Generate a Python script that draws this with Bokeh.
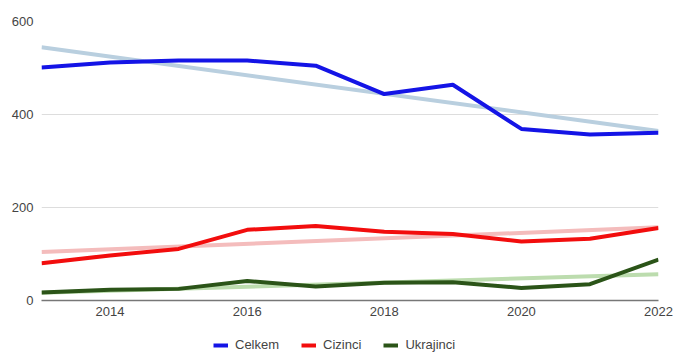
import numpy as np
from bokeh.plotting import figure
from bokeh.layouts import column
from bokeh.models import Legend, LegendItem, FixedTicker, Range1d
from bokeh.embed import file_html
from bokeh.resources import INLINE

# Yearly counts per group
years = [2013, 2014, 2015, 2016, 2017, 2018, 2019, 2020, 2021, 2022]
celkem = [501, 512, 516, 516, 505, 444, 464, 369, 357, 361]
cizinci = [80, 97, 111, 152, 160, 148, 143, 127, 133, 156]
ukrajinci = [17, 23, 25, 42, 30, 38, 39, 27, 35, 88]

series = [
    ("Celkem", celkem, "#1414e6", "#b9cfdf"),
    ("Cizinci", cizinci, "#f20d0d", "#f4bcbc"),
    ("Ukrajinci", ukrajinci, "#2b5418", "#bcdcae"),
]

FONT = "Liberation Sans"

p = figure(
    width=676, height=330,
    output_backend="svg", toolbar_location=None,
    x_range=Range1d(2013, 2022), y_range=Range1d(0, 600),
    min_border_left=41, min_border_right=18,
    min_border_top=21, min_border_bottom=30,
)
p.outline_line_color = None
p.background_fill_color = "white"
p.border_fill_color = "white"

# Linear trend lines under the data lines
for name, vals, col, tcol in series:
    k, b = np.polyfit(years, vals, 1)
    ends = [years[0], years[-1]]
    p.line(ends, [k * x + b for x in ends], line_color=tcol, line_width=4)

for name, vals, col, tcol in series:
    p.line(years, vals, line_color=col, line_width=4, line_join="round")

p.xaxis.ticker = FixedTicker(ticks=[2014, 2016, 2018, 2020, 2022])
p.yaxis.ticker = FixedTicker(ticks=[0, 200, 400, 600])
p.xgrid.grid_line_color = None
p.ygrid.grid_line_color = "#dddddd"
p.ygrid.grid_line_width = 1

p.xaxis.axis_line_color = "#777777"
p.xaxis.axis_line_width = 1.5
p.yaxis.axis_line_color = None
for ax in (p.xaxis, p.yaxis):
    ax.major_tick_line_color = None
    ax.minor_tick_line_color = None
    ax.major_tick_out = 0
    ax.major_tick_in = 0
    ax.minor_tick_out = 0
    ax.minor_tick_in = 0
    ax.major_label_text_font = FONT
    ax.major_label_text_font_size = "13px"
    ax.major_label_text_color = "#444444"
p.xaxis.major_label_standoff = 6
p.yaxis.major_label_standoff = 8

# Legend strip under the chart; its line renderers sit outside the strip's
# ranges, so only their legend swatches show
leg = figure(
    width=676, height=22,
    output_backend="svg", toolbar_location=None,
    x_axis_location=None, y_axis_location=None,
    x_range=Range1d(0, 1), y_range=Range1d(0, 1),
    min_border=0,
)
leg.outline_line_color = None
leg.xgrid.visible = False
leg.ygrid.visible = False

items = []
for name, vals, col, tcol in series:
    r = leg.line(years, vals, line_color=col, line_width=4)
    items.append(LegendItem(label=name, renderers=[r]))

legend = Legend(
    items=items, orientation="horizontal",
    label_text_font=FONT, label_text_font_size="13px", label_text_color="#444444",
    glyph_width=15, glyph_height=12, label_standoff=7, spacing=22,
    label_height=12,
    border_line_color=None, background_fill_alpha=0,
    margin=0, padding=2, location=(172, 0),
)
leg.add_layout(legend, "center")

open("out.html", "w").write(file_html(column(p, leg), INLINE))
